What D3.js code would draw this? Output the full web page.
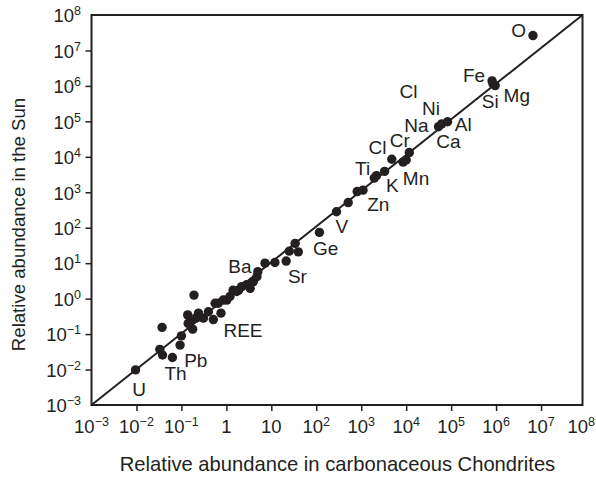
<!DOCTYPE html>
<html>
<head>
<meta charset="utf-8">
<script src="https://cdn.jsdelivr.net/npm/d3@7"></script>
<style>
  body { margin: 0; background: #fff; }
  text { font-family: "Liberation Sans", Arial, sans-serif; fill: #231f20; }
</style>
</head>
<body>
<svg id="chart" width="596" height="486"></svg>
<script>
// log10 of relative abundance
const logChondrite = [-2.02, -1.48, -1.42, -1.43, -1.20, -1.00, -1.03, -0.72, -0.86, -0.81,
    -0.75, -0.68, -0.59, -0.51, -0.40, -0.29, -0.18, -0.12, -0.07, 0.08,
    0.15, 0.23, 0.34, 0.45, 0.53, 0.60, 0.68, 0.86, 1.08, 1.33,
    1.40, 1.53, 1.60, 2.07, 2.45, 2.71, 2.91, 3.04, 3.29, 3.34,
    3.52, 3.68, 3.93, 4.00, 4.07, 4.72, 4.79, 4.92, 5.91, 5.98,
    5.93, 6.82, 0.01, -0.25, 0.70, 0.27, -0.85, -0.62];
const logSun = [-2.01, -1.43, -1.59, -0.81, -1.66, -1.05, -1.31, 0.10, -0.46, -0.65,
    -0.86, -0.55, -0.51, -0.55, -0.37, -0.59, -0.13, -0.41, -0.04, 0.06,
    0.24, 0.20, 0.34, 0.39, 0.29, 0.48, 0.62, 1.00, 1.02, 1.06,
    1.34, 1.56, 1.32, 1.87, 2.45, 2.71, 3.02, 3.06, 3.40, 3.47,
    3.59, 3.93, 3.85, 3.91, 4.12, 4.85, 4.93, 4.99, 6.14, 6.01,
    6.06, 7.42, -0.04, -0.13, 0.76, 0.24, -0.70, -0.41];

// element names and where they sit (log10 units)
const elemNames = ["O", "Fe", "Si", "Mg", "Cl", "Ni", "Na", "Al", "Ca", "Cr", "Cl", "Ti",
    "K", "Mn", "Zn", "V", "Ge", "Sr", "Ba", "REE", "Pb", "Th", "U"];
const elemX = [6.50, 5.51, 5.87, 6.46, 4.05, 4.55, 4.23, 5.27, 4.94, 3.86, 3.36, 3.03,
    3.69, 4.22, 3.38, 2.57, 2.21, 1.58, 0.30, 0.37, -0.68, -1.13, -1.94];
const elemY = [7.39, 6.12, 5.37, 5.55, 5.65, 5.19, 4.71, 4.74, 4.24, 4.29, 4.08, 3.49,
    3.02, 3.21, 2.48, 1.84, 1.23, 0.43, 0.72, -1.07, -1.92, -2.29, -2.74];

const tickExps = [-3, -2, -1, 0, 1, 2, 3, 4, 5, 6, 7, 8];
const xTickLabels = ["10^−3", "10^−2", "10^−1", "1", "10", "10^2", "10^3", "10^4", "10^5", "10^6", "10^7", "10^8"];
const yTickLabels = ["10^−3", "10^−2", "10^−1", "10^0", "10^1", "10^2", "10^3", "10^4", "10^5", "10^6", "10^7", "10^8"];

const svg = d3.select("#chart");
const padLeft = 91.5, padTop = 15, w = 491, h = 390;

const x = d3.scaleLog().domain([1e-3, 1e8]).range([padLeft, 586]);
const y = d3.scaleLog().domain([1e-3, 1e8]).range([padTop + h, padTop]);

// ticks (no labels, drawn below)
const inner = tickExps.slice(1, -1).map(e => Math.pow(10, e));
svg.append("g")
    .attr("transform", "translate(0," + (padTop + h) + ")")
    .call(d3.axisBottom(x).tickValues(inner).tickSize(6).tickFormat(""))
    .call(g => g.select(".domain").remove())
    .call(g => g.selectAll("line").attr("stroke", "#231f20").attr("stroke-width", 1.5));
svg.append("g")
    .attr("transform", "translate(" + padLeft + ",0)")
    .call(d3.axisLeft(y).tickValues(inner).tickSize(6).tickFormat(""))
    .call(g => g.select(".domain").remove())
    .call(g => g.selectAll("line").attr("stroke", "#231f20").attr("stroke-width", 1.5));

// label with superscript
let put_label = (g, str) => {
    let parts = str.split("^");
    g.append("tspan").text(parts[0]);
    if (parts.length > 1) {
        g.append("tspan").attr("dy", -7).attr("font-size", 12.5).text(parts[1]);
    }
}

tickExps.forEach((e, i) => {
    const t = svg.append("text")
        .attr("x", x(Math.pow(10, e)))
        .attr("y", 433)
        .attr("text-anchor", "middle")
        .attr("font-size", 18.5);
    put_label(t, xTickLabels[i]);
    // keep the last one inside the picture
    const bb = t.node().getBBox();
    if (bb.x + bb.width > 595) {
        t.attr("text-anchor", "end").attr("x", 595);
    }
    const t2 = svg.append("text")
        .attr("x", 81)
        .attr("y", y(Math.pow(10, e)) + 7.3)
        .attr("text-anchor", "end")
        .attr("font-size", 18.5);
    put_label(t2, yTickLabels[i]);
});

// frame
svg.append("rect")
    .attr("x", padLeft).attr("y", padTop).attr("width", w).attr("height", h)
    .attr("fill", "none").attr("stroke", "#231f20").attr("stroke-width", 2);

// 1:1 line corner to corner
svg.append("line")
    .attr("x1", padLeft).attr("y1", y(1e-3))
    .attr("x2", padLeft + w).attr("y2", y(1e8))
    .attr("stroke", "#231f20").attr("stroke-width", 2);

// points
svg.selectAll("circle.pt")
    .data(logChondrite.map((v, i) => [v, logSun[i]]))
    .enter().append("circle")
    .attr("class", "pt")
    .attr("cx", d => x(Math.pow(10, d[0])))
    .attr("cy", d => y(Math.pow(10, d[1])))
    .attr("r", 4.7)
    .attr("fill", "#231f20");

// element names
svg.selectAll("text.el")
    .data(elemNames)
    .enter().append("text")
    .attr("class", "el")
    .attr("x", (d, i) => x(Math.pow(10, elemX[i])))
    .attr("y", (d, i) => y(Math.pow(10, elemY[i])))
    .attr("text-anchor", "middle")
    .attr("font-size", 19)
    .text(d => d);

// axis titles
svg.append("text")
    .attr("x", 337.5).attr("y", 471)
    .attr("text-anchor", "middle")
    .attr("font-size", 20.2)
    .text("Relative abundance in carbonaceous Chondrites");
svg.append("text")
    .attr("transform", "translate(25,224.5) rotate(-90)")
    .attr("text-anchor", "middle")
    .attr("font-size", 18.6)
    .text("Relative abundance in the Sun");
</script>
</body>
</html>
